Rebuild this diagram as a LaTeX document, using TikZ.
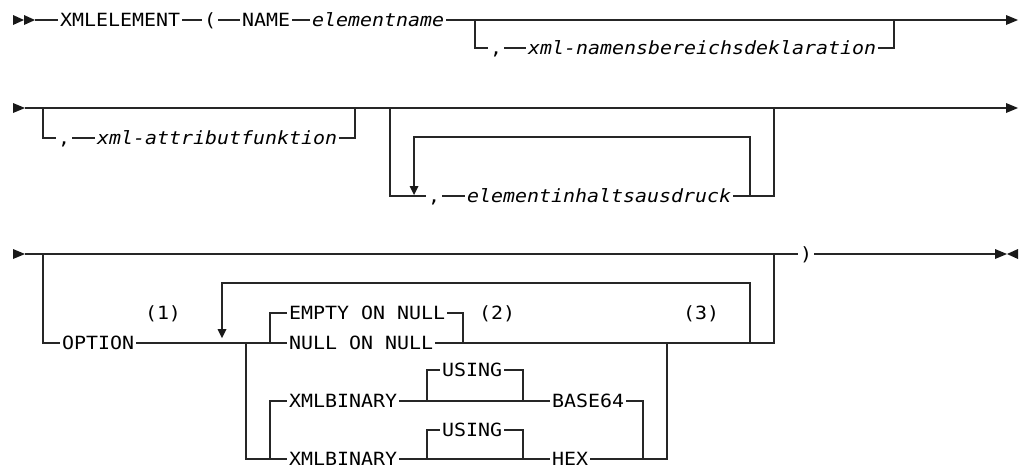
\documentclass[tikz,border=0pt]{standalone}
\usepackage{fontspec}
\setmonofont[FakeStretch=1.095]{DejaVu Sans Mono}
\usetikzlibrary{positioning}

\tikzset{
  kw/.style={font=\ttfamily\fontsize{18.2}{20}\selectfont, anchor=west, inner xsep=2pt, inner ysep=0pt, text height=13.3pt, text depth=0pt},
  var/.style={kw, font=\ttfamily\itshape\fontsize{18.2}{20}\selectfont},
  note/.style={kw, anchor=center},
  rail/.style={line width=1.2pt, color=black!85},
  tip/.style={fill=black!90},
}

\begin{document}
\begin{tikzpicture}[x=1pt,y=-1pt]
\useasboundingbox (0,0) rectangle (1022,464);

%first row
\fill[tip] (13,15) -- (24,20) -- (13,25) -- cycle;
\fill[tip] (24,15) -- (35,20) -- (24,25) -- cycle;
\coordinate (s1) at (35,20);
\coordinate (e1) at (1006,20);
\node[kw] (xmlel) at (58,20) {XMLELEMENT};
\node[kw] (lpar) at (202,20) {(};
\node[kw] (name) at (240,20) {NAME};
\node[var] (ename) at (310,20) {elementname};
\node[kw] (comma1) at (488,48) {,};
\node[var] (nsdekl) at (526,48) {xml-namensbereichsdeklaration};
\draw[rail] (s1) -- (xmlel.west);
\draw[rail] (xmlel.east) -- (lpar.west);
\draw[rail] (lpar.east) -- (name.west);
\draw[rail] (name.east) -- (ename.west);
\draw[rail] (ename.east) -- (e1);
\draw[rail] (475,20) |- (comma1.west);
\draw[rail] (comma1.east) -- (nsdekl.west);
\draw[rail] (nsdekl.east) -| (894,20);
\fill[tip] (1006,15) -- (1018,20) -- (1006,25) -- cycle;

%second row
\fill[tip] (13,103) -- (25,108) -- (13,113) -- cycle;
\coordinate (s2) at (25,108);
\coordinate (e2) at (1006,108);
\node[kw] (comma2) at (56,138) {,};
\node[var] (attr) at (95,138) {xml-attributfunktion};
\node[kw] (comma3) at (426,196) {,};
\node[var] (inhalt) at (465,196) {elementinhaltsausdruck};
\draw[rail] (s2) -- (e2);
\draw[rail] (43,108) |- (comma2.west);
\draw[rail] (comma2.east) -- (attr.west);
\draw[rail] (attr.east) -| (355,108);
\draw[rail] (390,108) |- (comma3.west);
\draw[rail] (comma3.east) -- (inhalt.west);
\draw[rail] (inhalt.east) -| (774,108);
%repeat loop
\draw[rail] (750,196) |- (414,137) -- (414,188);
\fill[tip] (409.5,186) -- (418.5,186) -- (414,195) -- cycle;
\fill[tip] (1006,103) -- (1018,108) -- (1006,113) -- cycle;

%third row
\fill[tip] (13,249) -- (25,254) -- (13,259) -- cycle;
\coordinate (s3) at (25,254);
\coordinate (e3) at (995,254);
\node[kw] (rpar) at (798,254) {)};
\node[kw] (option) at (60,343) {OPTION};
\node[note] (fn1) at (163,313) {(1)};
\node[kw] (empty) at (287,313) {EMPTY ON NULL};
\node[note] (fn2) at (497,313) {(2)};
\node[note] (fn3) at (701,313) {(3)};
\node[kw] (nullon) at (287,343) {NULL ON NULL};
\node[kw] (xb1) at (287,401) {XMLBINARY};
\node[kw] (using1) at (440,370) {USING};
\node[kw] (base) at (550,401) {BASE64};
\node[kw] (xb2) at (287,459) {XMLBINARY};
\node[kw] (using2) at (440,430) {USING};
\node[kw] (hex) at (550,459) {HEX};
\draw[rail] (s3) -- (rpar.west);
\draw[rail] (rpar.east) -- (e3);
\draw[rail] (43,254) |- (option.west);
\draw[rail] (option.east) -- (nullon.west);
\draw[rail] (nullon.east) -| (774,254);
\draw[rail] (270,343) |- (empty.west);
\draw[rail] (empty.east) -| (463,343);
%repeat loop
\draw[rail] (750,343) |- (222,283) -- (222,331);
\fill[tip] (217.5,329) -- (226.5,329) -- (222,338) -- cycle;
%binary choices
\draw[rail] (246,343) |- (xb2.west);
\draw[rail] (270,459) |- (xb1.west);
\draw[rail] (xb1.east) -- (base.west);
\draw[rail] (427,401) |- (using1.west);
\draw[rail] (using1.east) -| (523,401);
\draw[rail] (base.east) -| (643,459);
\draw[rail] (xb2.east) -- (hex.west);
\draw[rail] (427,459) |- (using2.west);
\draw[rail] (using2.east) -| (523,459);
\draw[rail] (hex.east) -| (667,343);
\fill[tip] (995,249) -- (1007,254) -- (995,259) -- cycle;
\fill[tip] (1018,249) -- (1007,254) -- (1018,259) -- cycle;

\end{tikzpicture}
\end{document}
